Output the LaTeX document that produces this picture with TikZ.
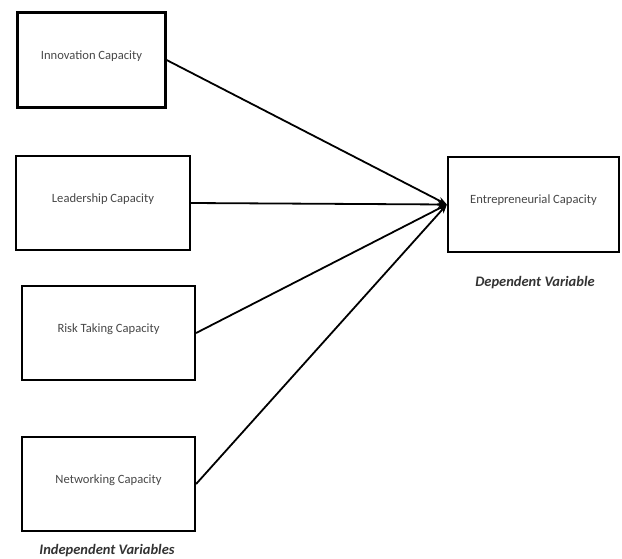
\documentclass[tikz,border=0pt]{standalone}
\usepackage{fontspec}
\setmainfont{Carlito}
\usetikzlibrary{arrows.meta}
\begin{document}
\begin{tikzpicture}[x=1pt,y=-1pt,
  varbox/.style={draw, line width=2.2pt, inner sep=0pt, font=\fontsize{12.6}{14}\selectfont\color{black!72}},
  link/.style={line width=1.8pt, -{Stealth[length=9pt,width=7pt]}},
  caption/.style={font=\fontsize{14.5}{16}\selectfont\bfseries\itshape\color{black!80}}]
\useasboundingbox (0,0) rectangle (622,558);
\node[varbox, minimum width=148pt, minimum height=95pt] (inn) at (91.5,60) {\raisebox{10pt}{Innovation Capacity}};
\node[varbox, minimum width=174pt, minimum height=94pt] (lead) at (103,203) {\raisebox{10pt}{Leadership Capacity}};
\node[varbox, minimum width=173pt, minimum height=94pt] (risk) at (108.5,333) {\raisebox{10pt}{Risk Taking Capacity}};
\node[varbox, minimum width=173pt, minimum height=94pt] (net) at (108.5,484) {\raisebox{10pt}{Networking Capacity}};
\node[varbox, minimum width=171pt, minimum height=95pt] (ent) at (533.5,204.5) {\raisebox{10pt}{Entrepreneurial Capacity}};
\node[caption] (dep) at (535,283) {Dependent Variable};
\node[caption] (indep) at (107,551) {Independent Variables};
\draw[link] (inn.east) -- (ent.west);
\draw[link] (lead.east) -- (ent.west);
\draw[link] (risk.east) -- (ent.west);
\draw[link] (net.east) -- (ent.west);
\end{tikzpicture}
\end{document}
